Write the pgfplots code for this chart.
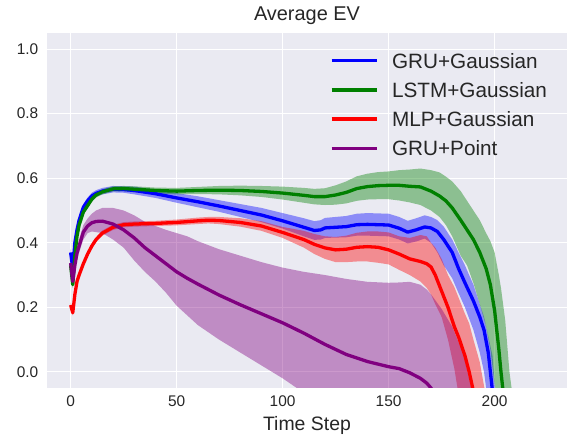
\documentclass[border=0pt]{standalone}
\usepackage{pgfplots}
\pgfplotsset{compat=1.18}
\usepackage{pgfplotstable}
\usepgfplotslibrary{fillbetween}
\usepackage{fontspec}
\setmainfont{Liberation Sans}
\definecolor{bgcol}{HTML}{EAEAF2}
\definecolor{txt}{HTML}{262626}
\definecolor{mpurple}{RGB}{128,0,128}
\definecolor{mgreen}{RGB}{0,128,0}
\definecolor{mblue}{RGB}{0,0,255}
\definecolor{mred}{RGB}{255,0,0}

\pgfplotstableread{
x m lo hi
0 0.37 0.36 0.38
1 0.32 0.30 0.34
2 0.40 0.385 0.415
3 0.44 0.43 0.45
4 0.47 0.46 0.48
6 0.51 0.50 0.52
8 0.53 0.52 0.54
10 0.545 0.535 0.555
12 0.553 0.543 0.563
15 0.560 0.550 0.570
20 0.566 0.556 0.576
25 0.565 0.555 0.575
30 0.562 0.550 0.574
40 0.552 0.539 0.565
50 0.539 0.524 0.554
60 0.527 0.510 0.544
70 0.514 0.496 0.532
80 0.500 0.480 0.520
90 0.486 0.464 0.508
100 0.468 0.444 0.492
110 0.448 0.420 0.476
115 0.438 0.409 0.467
118 0.440 0.410 0.470
120 0.446 0.415 0.477
125 0.448 0.416 0.480
130 0.450 0.417 0.483
135 0.456 0.422 0.490
140 0.457 0.422 0.492
145 0.456 0.421 0.491
150 0.455 0.420 0.490
155 0.445 0.410 0.480
159 0.433 0.398 0.468
163 0.440 0.404 0.476
167 0.449 0.413 0.485
170 0.446 0.40 0.48
173 0.435 0.37 0.47
176 0.41 0.33 0.45
180 0.37 0.29 0.41
183 0.32 0.244 0.37
186 0.276 0.20 0.33
190 0.22 0.13 0.27
193 0.17 0.06 0.21
195 0.13 0.0 0.17
197 0.06 -0.1 0.11
199 -0.06 -0.2 0.05
201 -0.2 -0.3 -0.12
210 -0.4 -0.5 -0.3
223 -0.5 -0.6 -0.4
}\bluedat

\pgfplotstableread{
x m lo hi
0 0.33 0.32 0.34
1 0.27 0.26 0.28
2 0.36 0.35 0.37
3 0.42 0.41 0.43
4 0.455 0.447 0.463
6 0.495 0.487 0.503
8 0.515 0.507 0.523
10 0.535 0.527 0.543
12 0.548 0.540 0.556
15 0.558 0.550 0.566
20 0.567 0.559 0.575
25 0.568 0.560 0.576
30 0.566 0.557 0.575
40 0.562 0.553 0.571
50 0.560 0.550 0.570
60 0.562 0.551 0.573
70 0.563 0.550 0.576
80 0.562 0.547 0.577
90 0.559 0.542 0.576
100 0.554 0.534 0.574
110 0.547 0.524 0.570
115 0.543 0.519 0.567
120 0.543 0.517 0.569
125 0.548 0.518 0.578
130 0.556 0.522 0.590
135 0.568 0.530 0.606
140 0.574 0.534 0.614
145 0.577 0.535 0.619
150 0.578 0.535 0.621
155 0.578 0.531 0.625
160 0.575 0.525 0.627
165 0.573 0.517 0.630
170 0.560 0.50 0.625
174 0.545 0.48 0.618
177 0.53 0.455 0.605
180 0.508 0.42 0.59
184 0.47 0.36 0.56
187 0.44 0.33 0.53
190 0.41 0.275 0.50
193 0.37 0.21 0.47
196 0.32 0.14 0.43
198 0.27 0.07 0.405
200 0.19 -0.04 0.37
202 0.07 -0.1 0.30
203 0.0 -0.15 0.26
205 -0.12 -0.25 0.16
207 -0.25 -0.35 0.0
210 -0.35 -0.45 -0.15
223 -0.5 -0.6 -0.4
}\greendat

\pgfplotstableread{
x m lo hi
0 0.207 0.20 0.215
1 0.183 0.175 0.19
2 0.24 0.232 0.248
3 0.28 0.272 0.288
4 0.30 0.292 0.308
6 0.335 0.327 0.343
8 0.365 0.357 0.373
10 0.39 0.382 0.398
12 0.41 0.402 0.418
15 0.43 0.422 0.438
20 0.448 0.440 0.456
25 0.456 0.448 0.464
30 0.458 0.450 0.466
40 0.460 0.452 0.468
50 0.463 0.454 0.472
60 0.468 0.458 0.478
65 0.470 0.46 0.48
70 0.469 0.458 0.480
80 0.463 0.450 0.476
90 0.452 0.437 0.467
100 0.432 0.415 0.449
110 0.410 0.385 0.437
115 0.395 0.365 0.427
120 0.384 0.350 0.420
125 0.378 0.340 0.418
130 0.380 0.340 0.422
135 0.386 0.342 0.431
140 0.388 0.342 0.435
145 0.386 0.338 0.435
150 0.378 0.333 0.432
155 0.365 0.316 0.420
160 0.350 0.30 0.415
165 0.342 0.28 0.424
168 0.335 0.26 0.42
170 0.325 0.24 0.40
172 0.30 0.21 0.385
175 0.25 0.17 0.35
178 0.20 0.10 0.30
181 0.14 0.01 0.263
183 0.108 -0.07 0.23
186 0.05 -0.15 0.18
188 0.0 -0.2 0.15
190 -0.06 -0.25 0.10
193 -0.2 -0.3 0.03
196 -0.3 -0.4 -0.08
205 -0.5 -0.6 -0.3
223 -0.6 -0.7 -0.5
}\reddat

\pgfplotstableread{
x m lo hi
0 0.337 0.33 0.345
1 0.28 0.27 0.29
2 0.33 0.32 0.345
3 0.368 0.35 0.385
4 0.39 0.37 0.41
6 0.433 0.41 0.455
8 0.452 0.43 0.475
10 0.462 0.435 0.49
12 0.466 0.433 0.50
15 0.467 0.43 0.508
20 0.458 0.41 0.508
25 0.44 0.385 0.50
30 0.415 0.345 0.485
35 0.385 0.31 0.465
40 0.36 0.28 0.452
45 0.335 0.245 0.44
50 0.31 0.205 0.43
55 0.29 0.175 0.42
60 0.272 0.145 0.405
70 0.238 0.10 0.38
80 0.208 0.06 0.36
90 0.18 0.02 0.34
100 0.152 -0.02 0.323
110 0.12 -0.065 0.31
120 0.085 -0.11 0.30
130 0.054 -0.15 0.288
140 0.032 -0.19 0.279
150 0.016 -0.22 0.276
155 0.01 -0.24 0.277
160 -0.003 -0.26 0.279
165 -0.02 -0.28 0.27
168 -0.035 -0.29 0.255
170 -0.05 -0.3 0.24
175 -0.1 -0.33 0.195
180 -0.15 -0.36 0.14
185 -0.2 -0.39 0.06
188 -0.23 -0.4 -0.02
190 -0.25 -0.42 -0.08
200 -0.3 -0.5 -0.2
223 -0.4 -0.6 -0.3
}\purpledat

\begin{document}
\begin{tikzpicture}
\begin{axis}[
  scale only axis, width=520bp, height=355bp,
  xmin=-11.15, xmax=234.15, ymin=-0.05, ymax=1.05,
  xtick={0,50,100,150,200}, ytick={0,0.2,0.4,0.6,0.8,1.0},
  axis background/.style={fill=bgcol},
  axis line style={draw=none},
  major tick length=0pt,
  grid=major, major grid style={white, line width=1.1bp},
  /pgf/number format/assume math mode=true,
  tick label style={font=\fontsize{15.5}{18}\selectfont, text=txt},
  xticklabel style={anchor=north, inner sep=0pt, yshift=-8bp},
  yticklabel style={anchor=east, inner sep=0pt, xshift=-8.5bp,
    /pgf/number format/fixed, /pgf/number format/fixed zerofill, /pgf/number format/precision=1},
  title={Average EV},
  title style={at={(axis description cs:0.5,1)}, anchor=base, yshift=6.3bp, inner sep=0pt,
    font=\fontsize{20}{24}\selectfont, text=txt},
  xlabel={Time Step},
  xlabel style={at={(axis description cs:0.5,0)}, anchor=base, yshift=-42bp, inner sep=0pt,
    font=\fontsize{19.5}{23}\selectfont, text=txt},
  legend cell align=left,
  legend image code/.code={\draw[#1] (0bp,0bp) -- (45bp,0bp);},
  legend style={draw=none, fill=none, at={(axis description cs:0.5442,1)}, yshift=-18.6bp,
    anchor=north west, inner sep=0pt, outer sep=0pt, row sep=10.9bp, column sep=13.8bp,
    font=\fontsize{20.8}{25}\selectfont, text=txt,
    nodes={inner sep=0pt, text height=16.6bp, text depth=1.7bp}},
]
% bands
\addplot[name path=blo, draw=none, forget plot] table[x=x,y=lo]{\bluedat};
\addplot[name path=bhi, draw=none, forget plot] table[x=x,y=hi]{\bluedat};
\addplot[mblue, fill opacity=0.4, draw=none, forget plot] fill between[of=bhi and blo];
\addplot[name path=glo, draw=none, forget plot] table[x=x,y=lo]{\greendat};
\addplot[name path=ghi, draw=none, forget plot] table[x=x,y=hi]{\greendat};
\addplot[mgreen, fill opacity=0.4, draw=none, forget plot] fill between[of=ghi and glo];
\addplot[name path=rlo, draw=none, forget plot] table[x=x,y=lo]{\reddat};
\addplot[name path=rhi, draw=none, forget plot] table[x=x,y=hi]{\reddat};
\addplot[mred, fill opacity=0.4, draw=none, forget plot] fill between[of=rhi and rlo];
\addplot[name path=plo, draw=none, forget plot] table[x=x,y=lo]{\purpledat};
\addplot[name path=phi, draw=none, forget plot] table[x=x,y=hi]{\purpledat};
\addplot[mpurple, fill opacity=0.4, draw=none, forget plot] fill between[of=phi and plo];
% means
\addplot[mblue, line width=3.3bp, line join=round] table[x=x,y=m]{\bluedat};
\addlegendentry{GRU+Gaussian}
\addplot[mgreen, line width=3.3bp, line join=round] table[x=x,y=m]{\greendat};
\addlegendentry{LSTM+Gaussian}
\addplot[mred, line width=3.3bp, line join=round] table[x=x,y=m]{\reddat};
\addlegendentry{MLP+Gaussian}
\addplot[mpurple, line width=3.3bp, line join=round] table[x=x,y=m]{\purpledat};
\addlegendentry{GRU+Point}
\end{axis}
\path[use as bounding box] ([shift={(-47bp,-46bp)}]current axis.south west) rectangle ([shift={(2bp,33bp)}]current axis.north east);
\end{tikzpicture}
\end{document}
